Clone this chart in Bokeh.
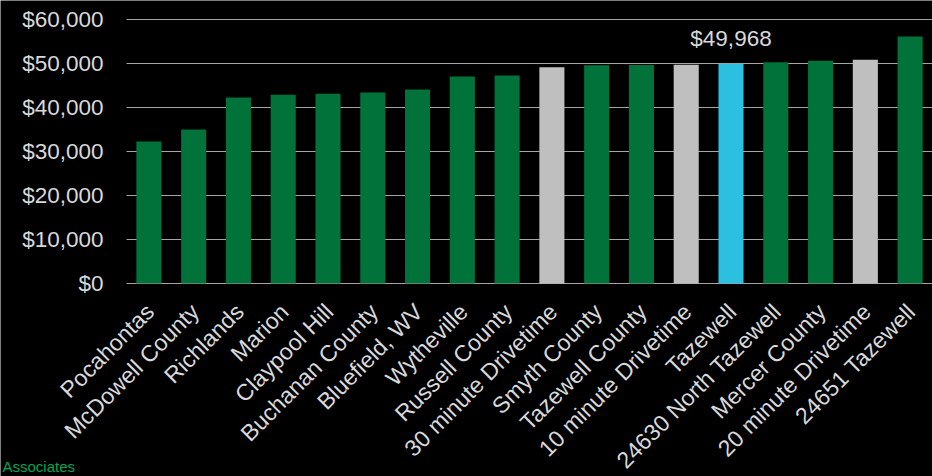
from bokeh.plotting import figure
from bokeh.models import ColumnDataSource, Range1d, Label, LabelSet
from bokeh.core.properties import value
from bokeh.embed import file_html
from bokeh.resources import INLINE
import math

# ---- data ----
categories = [
    "Pocahontas", "McDowell County", "Richlands", "Marion", "Claypool Hill",
    "Buchanan County", "Bluefield, WV", "Wytheville", "Russell County",
    "30 minute Drivetime", "Smyth County", "Tazewell County",
    "10 minute Drivetime", "Tazewell", "24630 North Tazewell",
    "Mercer County", "20 minute Drivetime", "24651 Tazewell",
]
incomes = [
    32300, 35000, 42300, 42900, 43100,
    43400, 44100, 47050, 47250,
    49150, 49600, 49650,
    49700, 49968, 50300,
    50650, 50850, 56150,
]
y_ticks = [0, 10000, 20000, 30000, 40000, 50000, 60000]
highlight = "Tazewell"
footer_text = "Associates"

# ---- styling ----
GREEN = "#00723A"
GREY = "#BFBFBF"
CYAN = "#2BBFE0"
TEXT = "#D9D9D9"
GRID = "#A6A6A6"
FONT = "Liberation Sans"

n = len(categories)
pos = [i + 0.5 for i in range(n)]  # slot centres of the categories
colors = []
for c in categories:
    if c == highlight:
        colors.append(CYAN)
    elif "Drivetime" in c:
        colors.append(GREY)
    else:
        colors.append(GREEN)

src = ColumnDataSource(dict(x=pos, cat=categories, val=incomes, color=colors))

# The plotting frame covers the whole canvas so that the slanted category
# labels and the value labels are not clipped: the ranges are extended to the
# left (value labels), above and below zero (slanted category labels).
y_top = max(y_ticks)
px_per_unit = 264 / y_top
x_range = Range1d(-n * 126 / 806, n)
y_range = Range1d(-193 / px_per_unit, y_top + 19 / px_per_unit)

p = figure(
    x_range=x_range, y_range=y_range,
    width=932, height=476,
    min_border_left=0, min_border_right=0, min_border_top=0, min_border_bottom=0,
    output_backend="svg", toolbar_location=None,
    background_fill_color="black", border_fill_color="black",
)
p.outline_line_color = None
p.xaxis.visible = False
p.yaxis.visible = False
p.xgrid.visible = False
p.ygrid.visible = False

# horizontal gridlines spanning the categories
grid_src = ColumnDataSource(dict(
    x0=[0] * len(y_ticks), x1=[n] * len(y_ticks), y=y_ticks))
p.segment(x0="x0", y0="y", x1="x1", y1="y", source=grid_src,
          line_color=GRID, line_width=1.2)

# value labels
tick_src = ColumnDataSource(dict(y=y_ticks, t=["${:,}".format(t) for t in y_ticks]))
p.add_layout(LabelSet(x=103, x_units="screen", y="y", text="t", source=tick_src,
                      text_align="right", text_baseline="middle", text_color=TEXT,
                      text_font=value(FONT), text_font_size="22.5px"))

p.vbar(x="x", top="val", bottom=0, width=0.56, fill_color="color",
       line_color=None, source=src)

hi = categories.index(highlight)
lab_src = ColumnDataSource(dict(
    x=[pos[hi]], y=[incomes[hi]], t=["${:,.0f}".format(incomes[hi])]))
p.text(x="x", y="y", text="t", source=lab_src, text_align="center",
       text_baseline="middle", y_offset=-25, text_color=TEXT,
       text_font=value(FONT), text_font_size="22.5px")

# category labels
cat_src = ColumnDataSource(dict(x=pos, cat=categories, base=[0] * n))
p.add_layout(LabelSet(x="x", y="base", text="cat", source=cat_src,
                      angle=math.pi / 4, text_align="right", text_baseline="top",
                      x_offset=-8, y_offset=-15, text_color=TEXT,
                      text_font=value(FONT), text_font_size="23px"))

p.add_layout(Label(x=2, y=2, x_units="screen", y_units="screen",
                   text=footer_text, text_color="#00A651", text_font=FONT,
                   text_font_size="15px", text_baseline="bottom"))

open("out.html", "w").write(file_html(p, INLINE))
